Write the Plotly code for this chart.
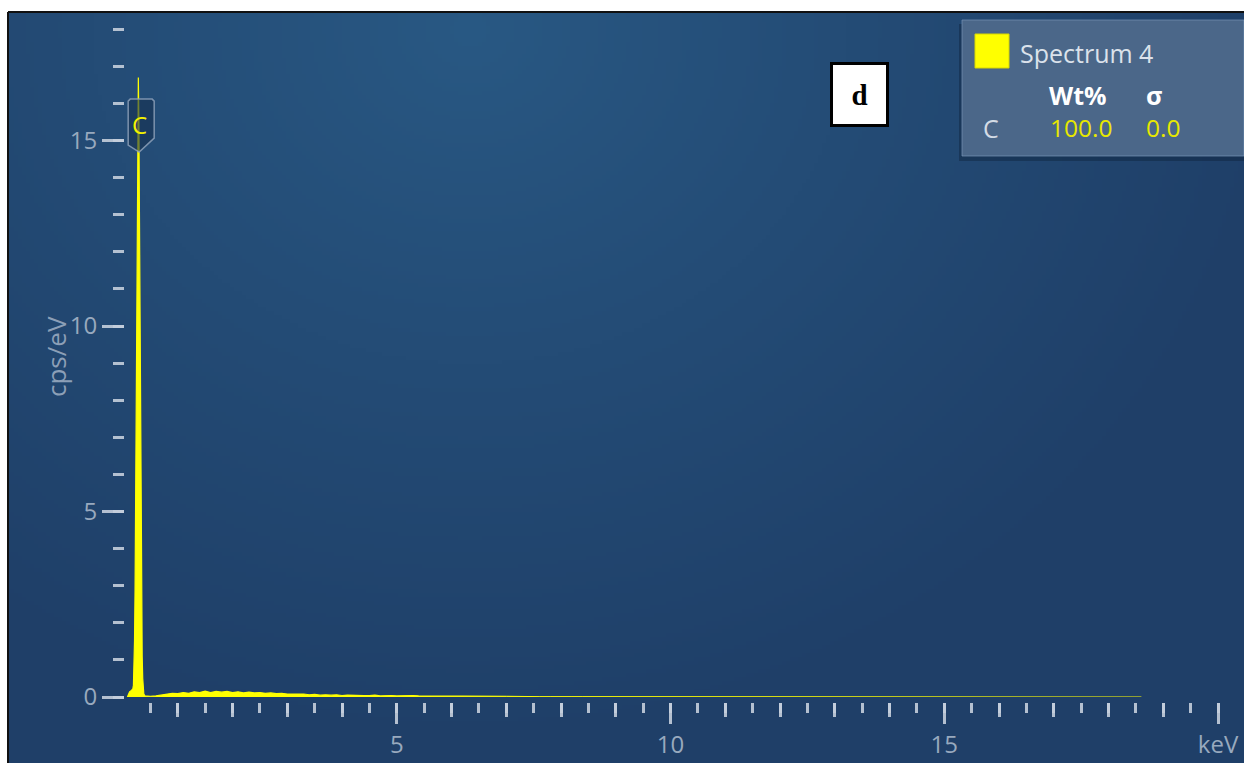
import base64
import struct
import zlib

import numpy as np
import plotly.graph_objects as go

W, H = 1244, 763

# ---------------- data ----------------
PEAK_ENERGY = [0.08, 0.10, 0.12, 0.14, 0.16, 0.18, 0.19, 0.20, 0.21, 0.22, 0.23,
               0.24, 0.25, 0.26, 0.27, 0.28, 0.29, 0.30, 0.31, 0.32, 0.33, 0.34,
               0.35, 0.36, 0.37, 0.38, 0.40, 0.45]
PEAK_CPS = [0.00, 0.08, 0.14, 0.16, 0.18, 0.22, 0.32, 0.70, 1.5, 2.9, 5.0,
            7.9, 11.1, 14.1, 16.1, 16.7, 15.5, 13.0, 9.8, 6.7, 4.1, 2.3,
            1.1, 0.5, 0.2, 0.08, 0.03, 0.02]

CONT_START, CONT_STEP = 0.5, 0.1
CONT_CPS = [0.02, 0.03, 0.05, 0.08, 0.10, 0.09, 0.12, 0.10, 0.14, 0.12,
            0.16, 0.12, 0.15, 0.13, 0.15, 0.12, 0.14, 0.11, 0.13, 0.11,
            0.12, 0.10, 0.11, 0.09, 0.10, 0.08, 0.09, 0.08, 0.08, 0.06,
            0.07, 0.05, 0.06, 0.05, 0.06, 0.04, 0.05, 0.04, 0.05, 0.04,
            0.04, 0.05, 0.03, 0.04, 0.04, 0.03, 0.04, 0.03, 0.04, 0.03,
            0.03, 0.04, 0.02, 0.03, 0.03, 0.02, 0.03, 0.02, 0.03, 0.02,
            0.02, 0.03, 0.02, 0.02, 0.02, 0.02]

TAIL_START, TAIL_STEP = 7.0, 0.2
TAIL_CPS = [0.02, 0.01, 0.02, 0.01, 0.01, 0.02, 0.01, 0.01, 0.01, 0.02,
            0.01, 0.00, 0.01, 0.01, 0.00, 0.01, 0.01, 0.00, 0.01, 0.00,
            0.01, 0.00, 0.01, 0.00, 0.01, 0.00, 0.01, 0.00, 0.00, 0.01,
            0.00, 0.01, 0.00, 0.00, 0.01, 0.00, 0.00, 0.01, 0.00, 0.00,
            0.01, 0.00, 0.00, 0.01, 0.00, 0.00, 0.00, 0.01, 0.00, 0.00,
            0.00, 0.01, 0.00, 0.00, 0.00, 0.01, 0.00, 0.00, 0.00]

X_MAJOR = [5, 10, 15, 20]
X_MAJOR_TEXT = ["5", "10", "15", "keV"]
X_MID = [v for v in range(1, 21) if v % 5]
Y_MAJOR = [0, 5, 10, 15]

ELEMENT = "C"
ELEMENT_ENERGY = 0.277
SPECTRUM_NAME = "Spectrum 4"
WT_PCT = "100.0"
SIGMA = "0.0"
PANEL_LETTER = "d"

X_RANGE = [0.018, 20.474]
Y_RANGE = [0, 18.44]

cont_energy = [round(CONT_START + i * CONT_STEP, 2) for i in range(len(CONT_CPS))]
tail_energy = [round(TAIL_START + i * TAIL_STEP, 2) for i in range(len(TAIL_CPS))]
main_x = PEAK_ENERGY + cont_energy
main_y = PEAK_CPS + CONT_CPS


def px(x):
    return x / W


def py(y):
    return 1 - y / H


def png_uri(rgb):
    h, w, _ = rgb.shape
    raw = b"".join(b"\x00" + rgb[i].tobytes() for i in range(h))

    def chunk(tag, data):
        return (struct.pack(">I", len(data)) + tag + data +
                struct.pack(">I", zlib.crc32(tag + data) & 0xFFFFFFFF))

    png = (b"\x89PNG\r\n\x1a\n" +
           chunk(b"IHDR", struct.pack(">IIBBBBB", w, h, 8, 2, 0, 0, 0)) +
           chunk(b"IDAT", zlib.compress(raw, 9)) +
           chunk(b"IEND", b""))
    return "data:image/png;base64," + base64.b64encode(png).decode()


# soft radial background of the spectrum panel
PX0, PY0 = 8, 12
gw, gh = (W - PX0) // 4, (H - PY0) // 4
gx = PX0 + (np.arange(gw) + 0.5) * 4
gy = PY0 + (np.arange(gh) + 0.5) * 4
GX, GY = np.meshgrid(gx, gy)
t = np.sqrt(((GX - 470) / 820) ** 2 + ((GY - 30) / 720) ** 2)
t = np.clip(t, 0, 1) ** 0.9
c0 = np.array([41, 89, 132], float)
c1 = np.array([31, 63, 104], float)
img = (c0[None, None, :] * (1 - t[..., None]) + c1[None, None, :] * t[..., None])
img = np.clip(img, 0, 255).astype(np.uint8)
bg_uri = png_uri(img)

TICK_COL = "rgba(196,206,220,0.9)"
LABEL_COL = "#98a9be"
FONT = "Open Sans"

fig = go.Figure()
fig.add_trace(go.Scatter(
    x=main_x, y=main_y, mode="lines", fill="tozeroy",
    line=dict(color="#ffff00", width=1.2), fillcolor="#ffff00",
    hoverinfo="skip", showlegend=False, name=SPECTRUM_NAME))
fig.add_trace(go.Scatter(
    x=tail_energy, y=TAIL_CPS, mode="lines", fill="tozeroy", xaxis="x2",
    line=dict(color="#ffff00", width=1), fillcolor="#ffff00", opacity=0.22,
    hoverinfo="skip", showlegend=False, name=SPECTRUM_NAME))

x_dom = [px(124), 1]
y_dom = [py(697), py(13)]
x_pos = py(702)

fig.update_layout(
    width=W, height=H, autosize=False,
    margin=dict(l=0, r=0, t=0, b=0, pad=0),
    paper_bgcolor="white",
    plot_bgcolor="rgba(0,0,0,0)",
    showlegend=False,
    xaxis=dict(domain=x_dom, range=X_RANGE, anchor="free", position=x_pos,
               automargin=False,
               showgrid=False, zeroline=False, showline=False,
               ticks="outside", ticklen=21, tickwidth=3, tickcolor=TICK_COL,
               tickvals=X_MAJOR, ticktext=X_MAJOR_TEXT,
               tickfont=dict(family=FONT, size=24, color=LABEL_COL),
               minor=dict(dtick=0.5, tick0=0, ticks="outside", ticklen=10,
                          tickwidth=3, tickcolor=TICK_COL, showgrid=False),
               fixedrange=True),
    xaxis2=dict(overlaying="x", range=X_RANGE, anchor="free", position=x_pos,
                automargin=False,
                showgrid=False, zeroline=False, showline=False,
                ticks="outside", ticklen=14, tickwidth=3, tickcolor=TICK_COL,
                tickvals=X_MID, showticklabels=False, fixedrange=True),
    yaxis=dict(domain=y_dom, range=Y_RANGE, anchor="free", position=px(124),
               automargin=False,
               showgrid=False, zeroline=False, showline=False,
               ticks="outside", ticklen=22, tickwidth=3, tickcolor=TICK_COL,
               tickvals=Y_MAJOR,
               tickfont=dict(family=FONT, size=24, color=LABEL_COL),
               minor=dict(dtick=1, tick0=0, ticks="outside", ticklen=11,
                          tickwidth=3, tickcolor=TICK_COL, showgrid=False),
               fixedrange=True),
)

fig.add_layout_image(dict(
    source=bg_uri, xref="paper", yref="paper",
    x=px(PX0), y=py(PY0), sizex=px(W - PX0), sizey=(H - PY0) / H,
    xanchor="left", yanchor="top", sizing="stretch", layer="below"))

shapes = []
shapes.append(dict(type="line", xref="paper", yref="paper",
                   x0=px(PX0), x1=1.0, y0=py(PY0), y1=py(PY0),
                   line=dict(color="#111111", width=2)))
shapes.append(dict(type="line", xref="paper", yref="paper",
                   x0=px(PX0), x1=px(PX0), y0=0, y1=py(PY0),
                   line=dict(color="#111111", width=2)))
shapes.append(dict(type="rect", xref="paper", yref="paper",
                   x0=px(959), x1=1.0, y0=py(161), y1=py(24),
                   fillcolor="rgba(10,25,45,0.35)", line=dict(width=0),
                   layer="above"))
shapes.append(dict(type="rect", xref="paper", yref="paper",
                   x0=px(962), x1=1.0, y0=py(156), y1=py(20),
                   fillcolor="#4b6789", line=dict(color="rgba(120,148,182,0.7)", width=1),
                   layer="above"))
shapes.append(dict(type="rect", xref="paper", yref="paper",
                   x0=px(975), x1=px(1009), y0=py(68), y1=py(34),
                   fillcolor="#ffff00", line=dict(color="#d8d800", width=1),
                   layer="above"))
shapes.append(dict(type="path", xref="x", yref="y",
                   xsizemode="pixel", ysizemode="pixel",
                   xanchor=ELEMENT_ENERGY, yanchor=14.69,
                   path="M -10,7 L -10,51 L -8,53 L 14,53 L 16,51 L 16,14 L 1,0 Z",
                   fillcolor="rgba(22,48,80,0.6)",
                   line=dict(color="rgba(140,160,185,0.85)", width=1.5),
                   layer="above"))
fig.update_layout(shapes=shapes)

ann = []
ann.append(dict(text=ELEMENT, x=ELEMENT_ENERGY, y=15.43, xref="x", yref="y",
                xshift=1, showarrow=False,
                font=dict(family=FONT, size=24, color="#f2f200")))
ann.append(dict(text="cps/eV", x=px(36), y=py(357), xref="paper", yref="paper",
                textangle=-90, showarrow=False,
                font=dict(family=FONT, size=26, color="#8c9fb7")))
ann.append(dict(text=SPECTRUM_NAME, x=px(1018), y=py(53), xref="paper", yref="paper",
                xanchor="left", yanchor="middle", showarrow=False,
                font=dict(family=FONT, size=25, color="#dbe2eb")))
ann.append(dict(text="<b>Wt%</b>", x=px(1047), y=py(95), xref="paper", yref="paper",
                xanchor="left", yanchor="middle", showarrow=False,
                font=dict(family=FONT, size=25, color="#ffffff")))
ann.append(dict(text="<b>σ</b>", x=px(1144), y=py(95), xref="paper", yref="paper",
                xanchor="left", yanchor="middle", showarrow=False,
                font=dict(family=FONT, size=25, color="#ffffff")))
ann.append(dict(text=ELEMENT, x=px(981), y=py(128), xref="paper", yref="paper",
                xanchor="left", yanchor="middle", showarrow=False,
                font=dict(family=FONT, size=25, color="#d3dbe5")))
ann.append(dict(text=WT_PCT, x=px(1048), y=py(128), xref="paper", yref="paper",
                xanchor="left", yanchor="middle", showarrow=False,
                font=dict(family=FONT, size=24.5, color="#e8e800")))
ann.append(dict(text=SIGMA, x=px(1144), y=py(128), xref="paper", yref="paper",
                xanchor="left", yanchor="middle", showarrow=False,
                font=dict(family=FONT, size=24.5, color="#e8e800")))
ann.append(dict(text="<b>" + PANEL_LETTER + "</b>", x=px(859.5), y=py(94.5),
                xref="paper", yref="paper", xanchor="center", yanchor="middle",
                showarrow=False, width=53, height=59, borderpad=0, borderwidth=3,
                bordercolor="#000000", bgcolor="#ffffff",
                font=dict(family="Liberation Serif", size=29, color="#000000")))
fig.update_layout(annotations=ann)

fig.write_html("out.html")
